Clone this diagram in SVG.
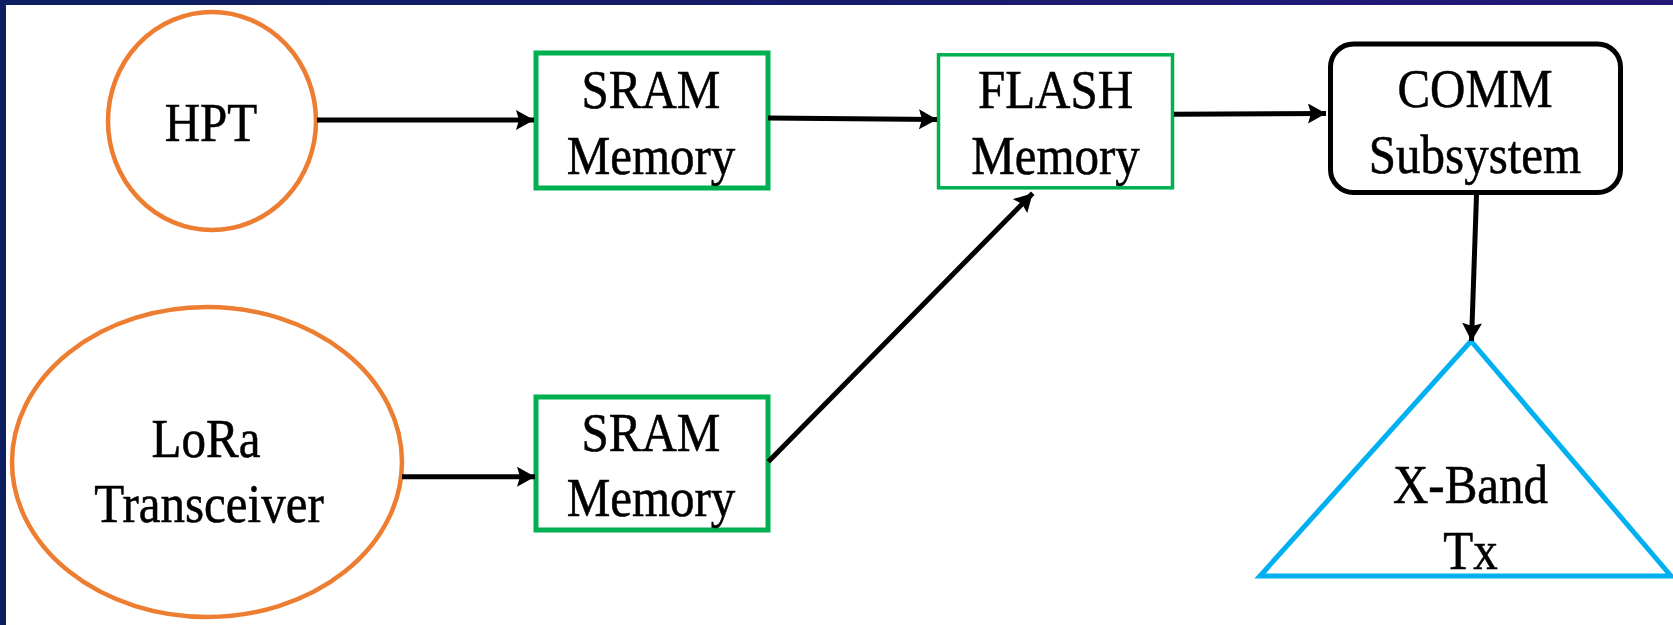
<svg xmlns="http://www.w3.org/2000/svg" width="1673" height="625" viewBox="0 0 1673 625">
<defs>
<linearGradient id="frame" x1="0" y1="0" x2="1" y2="0">
<stop offset="0" stop-color="#0c1f60"/>
<stop offset="1" stop-color="#241879"/>
</linearGradient>
<marker id="ah" markerUnits="userSpaceOnUse" markerWidth="20" markerHeight="20" refX="18" refY="10" orient="auto">
<path d="M0,0 L18,10 L0,20 L3,10 z" fill="#000"/>
</marker>
<style>
.orange{fill:#fff;stroke:#ED7D31;stroke-width:4.5}
.green{fill:#fff;stroke:#00B050;stroke-width:5}
.comm{fill:#fff;stroke:#000;stroke-width:5}
.tri{fill:#fff;stroke:#00B0F0;stroke-width:5;stroke-linejoin:miter}
.lbl{font-family:"Liberation Serif","Times New Roman",serif;font-size:49px;fill:#000;stroke:#000;stroke-width:0.5;text-anchor:middle}
.conn{stroke:#000;stroke-width:5;fill:none;marker-end:url(#ah)}
</style>
</defs>
<rect x="0" y="0" width="1673" height="625" fill="url(#frame)"/>
<rect x="6" y="5" width="1667" height="620" fill="#fff"/>

<g id="hpt">
<ellipse class="orange" cx="212" cy="121" rx="104" ry="109"/>
<text class="lbl" transform="translate(211,140.7) scale(1,1.13)">HPT</text>
</g>

<g id="lora">
<ellipse class="orange" cx="207" cy="462" rx="195" ry="155"/>
<text class="lbl" transform="translate(206,457) scale(1,1.13)">LoRa</text>
<text class="lbl" transform="translate(209,522) scale(1,1.13)">Transceiver</text>
</g>

<g id="sram1">
<rect class="green" x="536" y="53" width="232" height="135"/>
<text class="lbl" transform="translate(651,108.3) scale(1,1.13)">SRAM</text>
<text class="lbl" transform="translate(651,174) scale(1,1.13)">Memory</text>
</g>

<g id="sram2">
<rect class="green" x="536" y="397" width="232" height="133"/>
<text class="lbl" transform="translate(651,450.7) scale(1,1.13)">SRAM</text>
<text class="lbl" transform="translate(651,516) scale(1,1.13)">Memory</text>
</g>

<g id="flash">
<rect class="green" style="stroke-width:3.5" x="938.5" y="54.8" width="234" height="133"/>
<text class="lbl" transform="translate(1055.5,108.3) scale(1,1.13)">FLASH</text>
<text class="lbl" transform="translate(1055.5,174) scale(1,1.13)">Memory</text>
</g>

<g id="comm">
<rect class="comm" x="1330.5" y="44" width="290" height="148.5" rx="23" ry="23"/>
<text class="lbl" transform="translate(1475,106.7) scale(1,1.13)">COMM</text>
<text class="lbl" transform="translate(1475,172.7) scale(1,1.13)">Subsystem</text>
</g>

<g id="xband">
<polygon class="tri" points="1471,341 1671,576 1260,576"/>
<text class="lbl" transform="translate(1470.5,503) scale(1,1.13)">X-Band</text>
<text class="lbl" transform="translate(1470.5,569) scale(1,1.13)">Tx</text>
</g>

<g id="connectors">
<line class="conn" x1="317" y1="120" x2="534" y2="120"/>
<line class="conn" x1="768" y1="118" x2="937" y2="119.5"/>
<line class="conn" x1="1174" y1="114.3" x2="1326" y2="113.5"/>
<line class="conn" x1="402" y1="476.7" x2="535" y2="476.7"/>
<line class="conn" x1="768.3" y1="461.7" x2="1032.7" y2="193.3"/>
<line class="conn" x1="1476.5" y1="195" x2="1471.5" y2="341"/>
</g>
</svg>
